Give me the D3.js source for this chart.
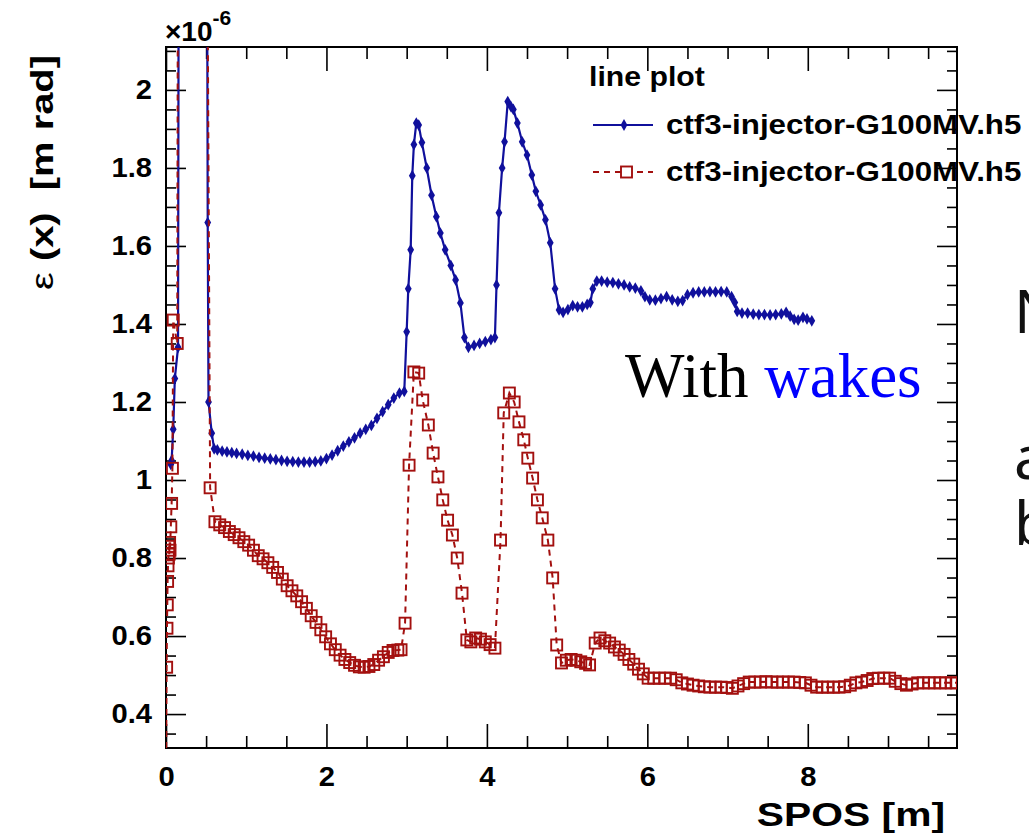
<!DOCTYPE html>
<html>
<head>
<meta charset="utf-8">
<script src="https://cdn.jsdelivr.net/npm/d3@7"></script>
<style>
  body { margin: 0; background: #fff; }
  svg { display: block; }
</style>
</head>
<body>
<script>
var w = 1029,
    h = 834;

// emittance, units of 1e-6 m rad, vs SPOS [m]
var blueSeries = [
  [0.06,1.04],[0.07,1.05],[0.09,1.13],[0.11,1.26],[0.15,1.34],[0.16,2.6],[0.51,2.6],
  [0.52,1.66],[0.53,1.20],[0.57,1.12],[0.6,1.08],
  [0.64,1.077],[0.7,1.074],[0.76,1.072],[0.82,1.07],[0.88,1.068],[0.95,1.066],[1.02,1.063],
  [1.09,1.061],[1.16,1.058],[1.23,1.056],[1.3,1.054],[1.37,1.052],[1.44,1.05],[1.51,1.048],
  [1.58,1.047],[1.65,1.046],[1.72,1.046],[1.79,1.046],[1.86,1.047],[1.93,1.049],[2.0,1.055],
  [2.07,1.064],[2.14,1.075],[2.21,1.087],[2.28,1.098],[2.35,1.108],[2.42,1.12],[2.49,1.13],
  [2.56,1.14],[2.63,1.158],[2.7,1.175],[2.77,1.193],[2.84,1.21],[2.91,1.223],[2.97,1.227],
  [3.0,1.38],[3.02,1.49],[3.05,1.59],[3.07,1.78],[3.09,1.86],[3.12,1.915],[3.15,1.91],
  [3.19,1.865],[3.25,1.80],[3.31,1.73],[3.37,1.675],[3.42,1.633],[3.48,1.59],[3.55,1.55],
  [3.61,1.513],[3.67,1.454],[3.72,1.365],[3.77,1.34],[3.84,1.345],[3.91,1.35],[3.98,1.355],
  [4.05,1.36],[4.1,1.365],
  [4.12,1.50],[4.15,1.685],[4.19,1.80],[4.22,1.867],[4.26,1.97],[4.3,1.957],[4.33,1.95],
  [4.38,1.915],[4.44,1.867],[4.5,1.833],[4.56,1.782],[4.61,1.74],[4.67,1.705],[4.73,1.667],
  [4.79,1.608],[4.85,1.49],[4.9,1.436],[4.95,1.43],[5.01,1.437],[5.07,1.447],[5.13,1.444],
  [5.19,1.444],[5.25,1.45],[5.29,1.455],[5.32,1.49],[5.37,1.51],[5.43,1.51],[5.5,1.507],
  [5.57,1.506],[5.64,1.503],[5.71,1.5],[5.78,1.495],[5.85,1.492],[5.92,1.485],[5.97,1.47],
  [6.03,1.462],[6.1,1.461],[6.17,1.465],[6.24,1.47],[6.31,1.462],[6.38,1.458],[6.44,1.46],
  [6.5,1.475],[6.57,1.48],[6.64,1.482],[6.71,1.482],[6.78,1.483],[6.85,1.482],[6.92,1.483],
  [6.99,1.482],[7.05,1.47],[7.09,1.455],[7.12,1.432],[7.18,1.428],[7.25,1.428],[7.32,1.425],
  [7.39,1.424],[7.46,1.424],[7.53,1.423],[7.6,1.424],[7.67,1.426],[7.73,1.43],[7.78,1.42],
  [7.83,1.412],[7.88,1.41],[7.94,1.417],[7.99,1.413],[8.05,1.408]
];

var redSeries = [
  [0.0,0.2],[0.008,0.52],[0.012,0.62],[0.016,0.68],[0.02,0.74],[0.025,0.78],[0.03,0.80],
  [0.035,0.83],[0.04,0.81],[0.045,0.84],[0.05,0.82],[0.06,0.88],[0.07,0.94],[0.08,1.03],
  [0.09,1.41],[0.14,1.35],[0.15,2.6],[0.51,2.6],[0.55,0.98],
  [0.61,0.893],[0.67,0.885],[0.73,0.878],[0.79,0.868],[0.85,0.86],[0.91,0.852],[0.97,0.842],
  [1.03,0.833],[1.09,0.82],[1.15,0.806],[1.21,0.798],[1.27,0.788],[1.33,0.776],[1.39,0.763],
  [1.45,0.746],[1.51,0.729],[1.57,0.716],[1.63,0.703],[1.69,0.688],[1.75,0.671],[1.81,0.652],
  [1.87,0.635],[1.93,0.616],[1.99,0.598],[2.05,0.58],[2.11,0.565],[2.17,0.551],[2.23,0.54],
  [2.29,0.532],[2.35,0.525],[2.41,0.521],[2.47,0.52],[2.53,0.522],[2.59,0.527],[2.65,0.538],
  [2.71,0.547],[2.77,0.558],[2.83,0.563],[2.89,0.564],[2.93,0.565],[2.98,0.633],[3.03,1.038],
  [3.09,1.277],[3.15,1.274],[3.2,1.205],[3.27,1.141],[3.33,1.069],[3.39,1.008],[3.45,0.949],
  [3.51,0.897],[3.57,0.859],[3.63,0.80],[3.69,0.71],[3.75,0.59],[3.8,0.585],[3.86,0.595],
  [3.92,0.592],[3.98,0.585],[4.04,0.578],[4.1,0.569],[4.17,0.846],[4.21,1.172],[4.28,1.223],
  [4.34,1.2],[4.4,1.149],[4.46,1.103],[4.51,1.056],[4.57,1.005],[4.63,0.949],[4.69,0.903],
  [4.76,0.846],[4.82,0.749],[4.87,0.577],[4.93,0.531],[4.99,0.538],[5.05,0.54],[5.11,0.538],
  [5.17,0.534],[5.23,0.53],[5.28,0.526],[5.35,0.582],[5.41,0.595],[5.47,0.588],[5.53,0.582],
  [5.59,0.572],[5.65,0.564],[5.71,0.553],[5.77,0.54],[5.83,0.528],[5.89,0.515],[5.95,0.503],
  [6.01,0.492],[6.08,0.492],[6.15,0.492],[6.22,0.492],[6.29,0.492],[6.36,0.488],[6.43,0.48],
  [6.5,0.477],[6.57,0.474],[6.64,0.472],[6.71,0.47],[6.78,0.469],[6.85,0.469],[6.92,0.469],
  [6.99,0.468],[7.06,0.466],[7.13,0.472],[7.2,0.478],[7.27,0.482],[7.34,0.482],[7.41,0.482],
  [7.48,0.483],[7.55,0.482],[7.62,0.482],[7.69,0.482],[7.76,0.482],[7.83,0.482],[7.9,0.481],
  [7.97,0.48],[8.04,0.474],[8.11,0.469],[8.18,0.469],[8.25,0.469],[8.32,0.469],[8.39,0.469],
  [8.46,0.47],[8.53,0.474],[8.6,0.48],[8.67,0.482],[8.74,0.486],[8.81,0.491],[8.88,0.492],
  [8.95,0.492],[9.02,0.492],[9.09,0.484],[9.16,0.478],[9.23,0.474],[9.3,0.477],[9.37,0.48],
  [9.44,0.48],[9.51,0.48],[9.58,0.48],[9.65,0.48],[9.72,0.48],[9.79,0.48],[9.85,0.48]
];

var xTicks = [0, 2, 4, 6, 8];
var yTicks = [0.4, 0.6, 0.8, 1, 1.2, 1.4, 1.6, 1.8, 2];
var yTickLabels = ['0.4', '0.6', '0.8', '1', '1.2', '1.4', '1.6', '1.8', '2'];
var legendLabels = ['ctf3-injector-G100MV.h5', 'ctf3-injector-G100MV.h5'];

var blue = '#10109c',
    red = '#a3100f',
    sans = '"Liberation Sans", Arial, Helvetica, sans-serif',
    stretch = 1.12;

var svg = d3.select('body')
            .append('svg')
            .attr('width', w)
            .attr('height', h);

var x = d3.scaleLinear()
          .domain([0, 9.86])
          .range([166, 957]);

var y = d3.scaleLinear()
          .domain([0.313, 2.11])
          .range([748, 47]);

svg.append('clipPath')
   .attr('id', 'plotclip')
   .append('rect')
   .attr('x', 166).attr('y', 47)
   .attr('width', 957 - 166).attr('height', 748 - 47);

// axes, ROOT style: ticks pointing inwards on all four sides
var xMinor = d3.range(0, 9.86, 0.5).filter(function(v) { return v % 2 !== 0; });
var yMinor = d3.range(0.35, 2.11, 0.05).filter(function(v) {
  return Math.abs(v * 5 - Math.round(v * 5)) > 1e-6;
});

function styleAxis(g) {
  g.select('.domain').remove();
  g.selectAll('.tick line').attr('stroke', '#000').attr('stroke-width', 1.6);
  g.selectAll('text')
   .attr('font-family', sans)
   .attr('font-weight', 'bold')
   .attr('font-size', 27)
   .attr('fill', '#000')
   .attr('transform', 'scale(1.08,1)');
}

svg.append('g')
   .attr('transform', 'translate(0,748)')
   .call(d3.axisBottom(x).tickValues(xTicks).tickSize(-24).tickPadding(19)
           .tickFormat(d3.format('d')))
   .call(styleAxis);
svg.append('g')
   .attr('transform', 'translate(0,748)')
   .call(d3.axisBottom(x).tickValues(xMinor).tickSize(-12).tickFormat(''))
   .call(styleAxis);
svg.append('g')
   .attr('transform', 'translate(0,47)')
   .call(d3.axisTop(x).tickValues(xTicks).tickSize(-24).tickFormat(''))
   .call(styleAxis);
svg.append('g')
   .attr('transform', 'translate(0,47)')
   .call(d3.axisTop(x).tickValues(xMinor).tickSize(-12).tickFormat(''))
   .call(styleAxis);

svg.append('g')
   .attr('transform', 'translate(166,0)')
   .call(d3.axisLeft(y).tickValues(yTicks).tickSize(-20).tickPadding(13)
           .tickFormat(function(d, i) { return yTickLabels[i]; }))
   .call(styleAxis);
svg.append('g')
   .attr('transform', 'translate(166,0)')
   .call(d3.axisLeft(y).tickValues(yMinor).tickSize(-10).tickFormat(''))
   .call(styleAxis);
svg.append('g')
   .attr('transform', 'translate(957,0)')
   .call(d3.axisRight(y).tickValues(yTicks).tickSize(-20).tickFormat(''))
   .call(styleAxis);
svg.append('g')
   .attr('transform', 'translate(957,0)')
   .call(d3.axisRight(y).tickValues(yMinor).tickSize(-10).tickFormat(''))
   .call(styleAxis);

// frame
svg.append('rect')
   .attr('x', 166).attr('y', 47)
   .attr('width', 957 - 166).attr('height', 748 - 47)
   .attr('fill', 'none')
   .attr('stroke', '#000')
   .attr('stroke-width', 2);

var line = d3.line()
             .x(function(d) { return x(d[0]); })
             .y(function(d) { return y(d[1]); });

var plot = svg.append('g').attr('clip-path', 'url(#plotclip)');

// blue: solid with small filled markers
plot.append('path')
    .datum(blueSeries)
    .attr('d', line)
    .attr('fill', 'none')
    .attr('stroke', blue)
    .attr('stroke-width', 2.2);

var diamond = d3.symbol().type(d3.symbolDiamond).size(40);

plot.selectAll('.bm')
    .data(blueSeries)
    .enter()
    .append('path')
    .attr('class', 'bm')
    .attr('d', diamond)
    .attr('transform', function(d) { return 'translate(' + x(d[0]) + ',' + y(d[1]) + ')'; })
    .attr('fill', blue);

// red: dashed with open squares
plot.append('path')
    .datum(redSeries)
    .attr('d', line)
    .attr('fill', 'none')
    .attr('stroke', red)
    .attr('stroke-width', 2)
    .attr('stroke-dasharray', '6,5');

plot.selectAll('.rm')
    .data(redSeries)
    .enter()
    .append('rect')
    .attr('class', 'rm')
    .attr('x', function(d) { return x(d[0]) - 5.5; })
    .attr('y', function(d) { return y(d[1]) - 5.5; })
    .attr('width', 11)
    .attr('height', 11)
    .attr('fill', 'none')
    .attr('stroke', red)
    .attr('stroke-width', 1.9);

// exponent
var expo = svg.append('text')
              .attr('x', 165)
              .attr('y', 41)
              .attr('font-family', sans)
              .attr('font-weight', 'bold')
              .attr('font-size', 28)
              .attr('fill', '#000');
expo.append('tspan').text('×10');
expo.append('tspan').attr('font-size', 21).attr('dy', -16).text('-6');

// axis titles
svg.append('text')
   .attr('transform', 'translate(945,826) scale(1.2,1)')
   .attr('text-anchor', 'end')
   .attr('font-family', sans)
   .attr('font-weight', 'bold')
   .attr('font-size', 34)
   .text('SPOS [m]');

var ytitle = svg.append('text')
   .attr('transform', 'translate(53,55) rotate(-90)')
   .attr('text-anchor', 'end')
   .attr('font-family', sans)
   .attr('font-weight', 'bold')
   .attr('font-size', 32)
   .attr('textLength', 235)
   .attr('lengthAdjust', 'spacingAndGlyphs')
   .style('white-space', 'pre');
ytitle.append('tspan').attr('font-weight', 'normal').text('ε');
ytitle.append('tspan').text(' (x)  [m rad]');

// legend
svg.append('text')
   .attr('transform', 'translate(589,86) scale(' + stretch + ',1)')
   .attr('font-family', sans)
   .attr('font-weight', 'bold')
   .attr('font-size', 27)
   .text('line plot');

var legendY = [125, 172];

svg.append('line')
   .attr('x1', 593).attr('x2', 653)
   .attr('y1', legendY[0]).attr('y2', legendY[0])
   .attr('stroke', blue).attr('stroke-width', 2);
svg.append('path')
   .attr('d', diamond)
   .attr('transform', 'translate(624,' + legendY[0] + ')')
   .attr('fill', blue);

svg.append('line')
   .attr('x1', 593).attr('x2', 653)
   .attr('y1', legendY[1]).attr('y2', legendY[1])
   .attr('stroke', red).attr('stroke-width', 2)
   .attr('stroke-dasharray', '6,5');
svg.append('rect')
   .attr('x', 621).attr('y', legendY[1] - 5.5)
   .attr('width', 11).attr('height', 11)
   .attr('fill', '#fff')
   .attr('stroke', red).attr('stroke-width', 1.9);

svg.selectAll('.leg')
   .data(legendLabels)
   .enter()
   .append('text')
   .attr('class', 'leg')
   .attr('transform', function(d, i) {
     return 'translate(666,' + (legendY[i] + 9) + ') scale(1.16,1)';
   })
   .attr('font-family', sans)
   .attr('font-weight', 'bold')
   .attr('font-size', 27)
   .text(function(d) { return d; });

// slide annotation
var note = svg.append('text')
              .attr('x', 625)
              .attr('y', 397)
              .attr('font-family', '"Liberation Serif", "Times New Roman", serif')
              .attr('font-size', 63)
              .style('white-space', 'pre');
note.append('tspan').attr('fill', '#000').text('With ');
note.append('tspan').attr('fill', '#0000ff').text('wakes');

// text of the slide cut off at the right edge
var cutLines = [['N', 333], ['a', 479], ['b', 545]];
svg.selectAll('.cut')
   .data(cutLines)
   .enter()
   .append('text')
   .attr('class', 'cut')
   .attr('x', 1014)
   .attr('y', function(d) { return d[1]; })
   .attr('font-family', '"Noto Sans", "Open Sans", sans-serif')
   .attr('font-size', 60)
   .attr('fill', '#111')
   .text(function(d) { return d[0]; });
</script>
</body>
</html>
